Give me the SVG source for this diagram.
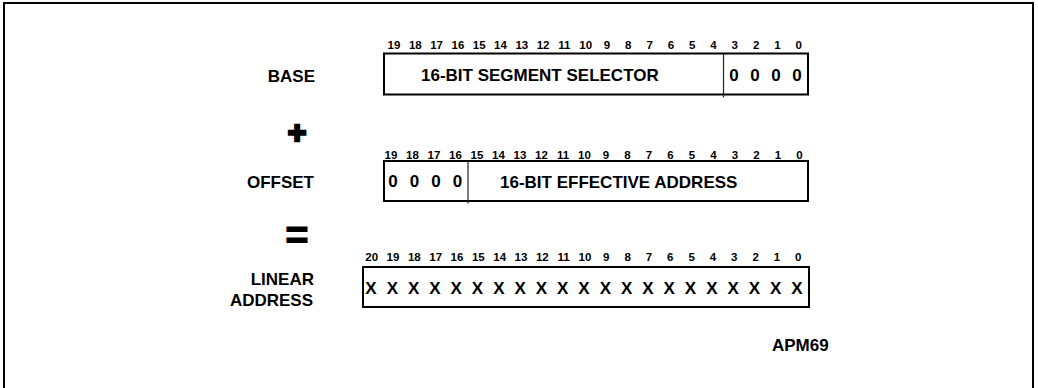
<svg xmlns="http://www.w3.org/2000/svg" width="1038" height="388" viewBox="0 0 1038 388">
<style>
.lbl{font-family:"Liberation Sans",Arial,sans-serif;font-weight:bold;font-size:17px;fill:#000;text-anchor:end}
.bit{font-family:"Liberation Sans",Arial,sans-serif;font-weight:bold;font-size:11.5px;fill:#000;text-anchor:middle}
.txt{font-family:"Liberation Sans",Arial,sans-serif;font-weight:bold;font-size:17px;fill:#000}
.z{font-family:"Liberation Sans",Arial,sans-serif;font-weight:bold;font-size:17px;fill:#000;text-anchor:middle}
.x{font-family:"Liberation Sans",Arial,sans-serif;font-weight:bold;font-size:17px;fill:#000;text-anchor:middle}
.op{font-family:"Liberation Sans",Arial,sans-serif;font-weight:bold;fill:#000;stroke:#000;text-anchor:middle}
.box{fill:#fff;stroke:#000;stroke-width:2}
.div{stroke:#222;stroke-width:1.2}
</style>
<rect x="0" y="0" width="1038" height="388" fill="#fff"/>
<rect x="4" y="3" width="1029" height="400" fill="none" stroke="#000" stroke-width="2"/>

<g id="label-base"><text class="lbl" x="315" y="81.5">BASE</text></g>
<g id="op-plus"><text class="op" x="297" y="143.4" font-size="32" stroke-width="2.5">+</text></g>
<g id="label-offset"><text class="lbl" x="314" y="188">OFFSET</text></g>
<g id="op-equals"><text class="op" x="297" y="248.8" font-size="40" stroke-width="1">=</text></g>
<g id="label-linear"><text class="lbl" x="314" y="285">LINEAR</text><text class="lbl" x="313" y="306">ADDRESS</text></g>

<g id="base">
<rect class="box" x="384" y="53.5" width="424" height="41"/>
<line class="div" x1="723.5" y1="54" x2="723.5" y2="97.5"/>
<text class="txt" x="421" y="80.5">16-BIT SEGMENT SELECTOR</text>
<text class="z" x="734" y="80.5">0</text><text class="z" x="755" y="80.5">0</text><text class="z" x="776" y="80.5">0</text><text class="z" x="797" y="80.5">0</text>
<g class="bits">
<text class="bit" x="394" y="49">19</text><text class="bit" x="415.3" y="49">18</text><text class="bit" x="436.6" y="49">17</text><text class="bit" x="457.9" y="49">16</text><text class="bit" x="479.2" y="49">15</text><text class="bit" x="500.5" y="49">14</text><text class="bit" x="521.8" y="49">13</text><text class="bit" x="543.1" y="49">12</text><text class="bit" x="564.4" y="49">11</text><text class="bit" x="585.7" y="49">10</text><text class="bit" x="607" y="49">9</text><text class="bit" x="628.3" y="49">8</text><text class="bit" x="649.6" y="49">7</text><text class="bit" x="670.9" y="49">6</text><text class="bit" x="692.2" y="49">5</text><text class="bit" x="713.5" y="49">4</text><text class="bit" x="734.8" y="49">3</text><text class="bit" x="756.1" y="49">2</text><text class="bit" x="777.4" y="49">1</text><text class="bit" x="798.7" y="49">0</text>
</g>
</g>

<g id="offset">
<rect class="box" x="384" y="161" width="424" height="40"/>
<line class="div" x1="468" y1="161.5" x2="468" y2="203.5"/>
<text class="z" x="393" y="187">0</text><text class="z" x="414.5" y="187">0</text><text class="z" x="436" y="187">0</text><text class="z" x="457.5" y="187">0</text>
<text class="txt" x="500" y="187.5">16-BIT EFFECTIVE ADDRESS</text>
<g class="bits">
<text class="bit" x="391" y="159">19</text><text class="bit" x="412.5" y="159">18</text><text class="bit" x="434" y="159">17</text><text class="bit" x="455.5" y="159">16</text><text class="bit" x="477" y="159">15</text><text class="bit" x="498.5" y="159">14</text><text class="bit" x="520" y="159">13</text><text class="bit" x="541.5" y="159">12</text><text class="bit" x="563" y="159">11</text><text class="bit" x="584.5" y="159">10</text><text class="bit" x="606" y="159">9</text><text class="bit" x="627.5" y="159">8</text><text class="bit" x="649" y="159">7</text><text class="bit" x="670.5" y="159">6</text><text class="bit" x="692" y="159">5</text><text class="bit" x="713.5" y="159">4</text><text class="bit" x="735" y="159">3</text><text class="bit" x="756.5" y="159">2</text><text class="bit" x="778" y="159">1</text><text class="bit" x="799.5" y="159">0</text>
</g>
</g>

<g id="linear">
<rect class="box" x="363" y="267" width="446" height="40"/>
<g class="bits">
<text class="bit" x="371.7" y="261">20</text><text class="bit" x="393" y="261">19</text><text class="bit" x="414.3" y="261">18</text><text class="bit" x="435.7" y="261">17</text><text class="bit" x="457" y="261">16</text><text class="bit" x="478.3" y="261">15</text><text class="bit" x="499.7" y="261">14</text><text class="bit" x="521" y="261">13</text><text class="bit" x="542.3" y="261">12</text><text class="bit" x="563.7" y="261">11</text><text class="bit" x="585" y="261">10</text><text class="bit" x="606.3" y="261">9</text><text class="bit" x="627.7" y="261">8</text><text class="bit" x="649" y="261">7</text><text class="bit" x="670.3" y="261">6</text><text class="bit" x="691.7" y="261">5</text><text class="bit" x="713" y="261">4</text><text class="bit" x="734.3" y="261">3</text><text class="bit" x="755.7" y="261">2</text><text class="bit" x="777" y="261">1</text><text class="bit" x="798.3" y="261">0</text>
</g>
<g class="xs">
<text class="x" x="371" y="294">X</text><text class="x" x="392.3" y="294">X</text><text class="x" x="413.6" y="294">X</text><text class="x" x="434.9" y="294">X</text><text class="x" x="456.2" y="294">X</text><text class="x" x="477.5" y="294">X</text><text class="x" x="498.8" y="294">X</text><text class="x" x="520.1" y="294">X</text><text class="x" x="541.4" y="294">X</text><text class="x" x="562.7" y="294">X</text><text class="x" x="584" y="294">X</text><text class="x" x="605.3" y="294">X</text><text class="x" x="626.6" y="294">X</text><text class="x" x="647.9" y="294">X</text><text class="x" x="669.2" y="294">X</text><text class="x" x="690.5" y="294">X</text><text class="x" x="711.8" y="294">X</text><text class="x" x="733.1" y="294">X</text><text class="x" x="754.4" y="294">X</text><text class="x" x="775.7" y="294">X</text><text class="x" x="797" y="294">X</text>
</g>
</g>

<g id="figure-id"><text class="txt" x="772" y="351" font-size="12">APM69</text></g>
<g id="connectors"></g>
</svg>
